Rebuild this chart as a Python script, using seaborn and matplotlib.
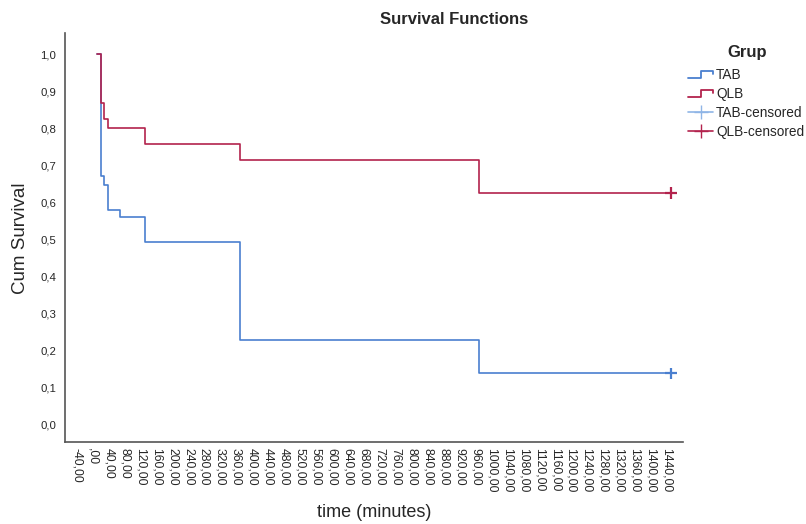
import pandas as pd
import numpy as np
import matplotlib
matplotlib.use("Agg")
import matplotlib.pyplot as plt
import matplotlib.transforms as mtransforms
import seaborn as sns
from matplotlib.lines import Line2D
from matplotlib.legend_handler import HandlerBase

# data
tab_time = [0, 10, 18, 28, 58, 120, 360, 960, 1440]
tab_surv = [1.0, 0.671, 0.648, 0.581, 0.560, 0.493, 0.229, 0.139, 0.139]
qlb_time = [0, 10, 18, 28, 120, 360, 960, 1440]
qlb_surv = [1.0, 0.869, 0.824, 0.801, 0.758, 0.714, 0.626, 0.626]
censor_time = [1440, 1440]
censor_surv = [0.139, 0.626]
groups = ["TAB", "QLB"]

x_ticks = list(range(-40, 1441, 40))
y_ticks = [0.0, 0.1, 0.2, 0.3, 0.4, 0.5, 0.6, 0.7, 0.8, 0.9, 1.0]

colors = {"TAB": "#4a7fcf", "QLB": "#b3234d"}
censor_light = {"TAB": "#8fb5e6", "QLB": "#b3234d"}

sns.set_style("white")
plt.rcParams["font.family"] = ["Liberation Sans", "DejaVu Sans"]

df = pd.concat([
    pd.DataFrame({"time": tab_time, "surv": tab_surv, "Grup": "TAB"}),
    pd.DataFrame({"time": qlb_time, "surv": qlb_surv, "Grup": "QLB"}),
])
cens = pd.DataFrame({"time": censor_time, "surv": censor_surv, "Grup": groups})

fig = plt.figure(figsize=(8.06, 5.24), dpi=100)
ax = fig.add_axes([0.0806, 0.1565, 0.7664, 0.7805])

sns.lineplot(data=df, x="time", y="surv", hue="Grup", palette=colors,
             drawstyle="steps-post", estimator=None, sort=False,
             linewidth=1.2, legend=False, ax=ax)
sns.scatterplot(data=cens, x="time", y="surv", hue="Grup", palette=colors,
                marker="+", s=70, linewidth=1.6, legend=False, ax=ax, zorder=5)

ax.set_xlim(-80, 1470)
ax.set_ylim(-0.046, 1.057)
ax.set_xticks(x_ticks)
xlabels = []
for v in x_ticks:
    s = ("%.2f" % v).replace(".", ",")
    if v == 0:
        s = ",00"
    xlabels.append(s)
ax.set_xticklabels(xlabels, rotation=270, fontsize=8.7)
ax.set_yticks(y_ticks)
ax.set_yticklabels([("%.1f" % v).replace(".", ",") for v in y_ticks], fontsize=8.2)
ax.tick_params(axis="x", length=0, pad=4)
ax.tick_params(axis="y", length=0, pad=6.5)

# SPSS puts the rotated labels a little left of the tick
shift = mtransforms.ScaledTranslation(-4 / 100, 0, fig.dpi_scale_trans)
for lab in ax.get_xticklabels():
    lab.set_transform(lab.get_transform() + shift)

for s in ["top", "right"]:
    ax.spines[s].set_visible(False)
for s in ["left", "bottom"]:
    ax.spines[s].set_color("#555555")
    ax.spines[s].set_linewidth(1.2)

ax.set_xlabel("")
ax.set_ylabel("")
fig.text(0.464, 0.022, "time (minutes)", ha="center", va="center", fontsize=13)
fig.text(0.025, 0.545, "Cum Survival", ha="center", va="center", rotation=90, fontsize=13.5)
fig.text(0.563, 0.962, "Survival Functions", ha="center", va="center",
         fontsize=12, fontweight="bold")
fig.text(0.927, 0.899, "Grup", ha="center", va="center", fontsize=12, fontweight="bold")


# step-shaped legend handle
class StepHandler(HandlerBase):
    def create_artists(self, legend, orig_handle, xdescent, ydescent, width,
                       height, fontsize, trans):
        lo = -ydescent + height * 0.15
        hi = -ydescent + height * 0.85
        xs = [-xdescent, -xdescent + width * 0.5, -xdescent + width * 0.5,
              -xdescent + width, -xdescent + width]
        ys = [lo, lo, hi, hi, hi - height * 0.35]
        ln = Line2D(xs, ys, color=orig_handle.get_color(), linewidth=1.3,
                    transform=trans)
        return [ln]


handles = [
    Line2D([], [], color=colors["TAB"]),
    Line2D([], [], color=colors["QLB"]),
    Line2D([], [], color=censor_light["TAB"], marker="+", markersize=10, linewidth=1.2),
    Line2D([], [], color=censor_light["QLB"], marker="+", markersize=10, linewidth=1.2),
]
labels = ["TAB", "QLB", "TAB-censored", "QLB-censored"]
leg = fig.legend(handles, labels, loc="upper left",
                 bbox_to_anchor=(0.854, 0.870), frameon=False, fontsize=9.8,
                 handlelength=1.8, handletextpad=0.25, labelspacing=0.37,
                 borderaxespad=0.0, borderpad=0.0,
                 handler_map={handles[0]: StepHandler(), handles[1]: StepHandler()})

fig.savefig("out.png", dpi=100)
